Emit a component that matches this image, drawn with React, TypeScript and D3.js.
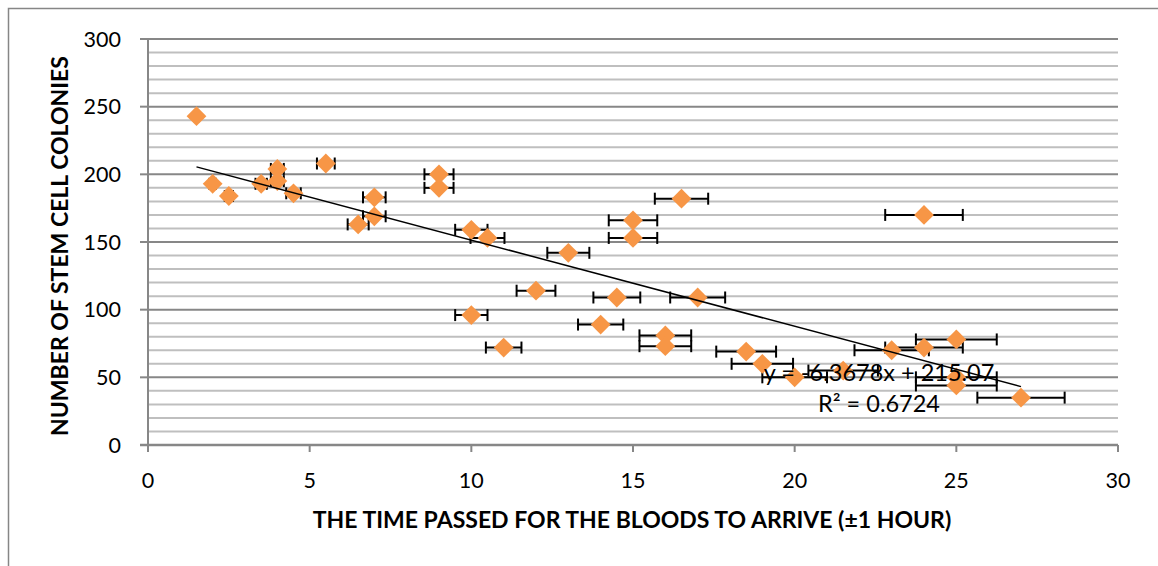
import React from "react";
import * as d3 from "d3";

// hours until the bloods arrived, and colonies counted
const timeHours = [
  1.5, 2, 2.5, 3.5, 4, 4, 4.5, 5.5, 6.5, 7, 7, 9, 9, 10, 10.5, 10, 11, 12, 13,
  14, 14.5, 15, 15, 16.5, 16, 16, 17, 18.5, 19, 20, 21.5, 23, 24, 24, 25, 25,
  25, 27,
];
const colonies = [
  243, 193, 184, 193, 204, 195, 186, 208, 163, 183, 169, 200, 190, 159, 153, 96,
  72, 114, 142, 89, 109, 166, 153, 182, 81, 73, 109, 69, 60, 50, 55, 70, 72,
  170, 78, 50, 44, 35,
];
const errorPct = 0.05; // Excel percentage error bars on x

const trendSlope = -6.3678;
const trendIntercept = 215.07;
const trendLabel = "y = -6.3678x + 215.07";
const r2Label = "R² = 0.6724";

const xTicks = [0, 5, 10, 15, 20, 25, 30];
const yTicks = [0, 50, 100, 150, 200, 250, 300];
const xTitle = "THE TIME PASSED FOR THE BLOODS TO ARRIVE (±1 HOUR)";
const yTitle = "NUMBER OF STEM CELL COLONIES";

const W = 1158;
const H = 566;

export default function App() {
  const x = d3.scaleLinear().domain([0, 30]).range([148, 1118]);
  const y = d3.scaleLinear().domain([0, 300]).range([445, 39]);
  const minor = d3.range(0, 301, 10);
  const diamond = d3.symbol(d3.symbolSquare, 196)();
  const font = "Lato, 'Open Sans', sans-serif";
  const points = timeHours.map((t, i) => ({ t, c: colonies[i] }));
  const t0 = d3.min(timeHours) as number;
  const t1 = d3.max(timeHours) as number;

  return (
    <svg
      width={W}
      height={H}
      style={{ position: "fixed", left: 0, top: 0, background: "#fff" }}
      fontFamily={font}
    >
      <rect x={8.5} y={8.5} width={W + 10} height={H + 10} fill="#fff" stroke="#868686" strokeWidth={1.5} />

      {/* grid */}
      {minor.map((v) => (
        <line
          key={"g" + v}
          x1={x(0)}
          x2={x(30)}
          y1={y(v)}
          y2={y(v)}
          stroke={v % 50 === 0 ? "#878787" : "#bfbfbf"}
          strokeWidth={2}
        />
      ))}

      {/* axes */}
      <line x1={x(0)} x2={x(0)} y1={y(300)} y2={y(0)} stroke="#878787" strokeWidth={2} />
      <line x1={x(0) - 8} x2={x(30)} y1={y(0)} y2={y(0)} stroke="#878787" strokeWidth={2.5} />
      {yTicks.map((v) => (
        <g key={"yt" + v}>
          <line x1={x(0) - 8} x2={x(0)} y1={y(v)} y2={y(v)} stroke="#878787" strokeWidth={2} />
          <text x={121} y={y(v)} dy="0.35em" textAnchor="end" fontSize={21.5} fill="#000">
            {v}
          </text>
        </g>
      ))}
      {xTicks.map((v) => (
        <g key={"xt" + v}>
          <line x1={x(v)} x2={x(v)} y1={y(0)} y2={y(0) + 7} stroke="#878787" strokeWidth={2} />
          <text x={x(v)} y={488} textAnchor="middle" fontSize={21.5} fill="#000">
            {v}
          </text>
        </g>
      ))}

      {/* error bars */}
      {points.map((p, i) => {
        const e = p.t * errorPct;
        const yy = y(p.c);
        return (
          <g key={"e" + i} stroke="#000" strokeWidth={2}>
            <line x1={x(p.t - e)} x2={x(p.t + e)} y1={yy} y2={yy} />
            <line x1={x(p.t - e)} x2={x(p.t - e)} y1={yy - 6} y2={yy + 6} />
            <line x1={x(p.t + e)} x2={x(p.t + e)} y1={yy - 6} y2={yy + 6} />
          </g>
        );
      })}

      {/* markers */}
      {points.map((p, i) => (
        <path
          key={"p" + i}
          d={diamond}
          transform={`translate(${x(p.t)},${y(p.c)}) rotate(45)`}
          fill="#F79646"
        />
      ))}

      {/* trendline */}
      <line
        x1={x(t0)}
        y1={y(trendSlope * t0 + trendIntercept)}
        x2={x(t1)}
        y2={y(trendSlope * t1 + trendIntercept)}
        stroke="#000"
        strokeWidth={1.5}
      />
      <text x={879} y={381} textAnchor="middle" fontSize={23.5} fill="#000">
        {trendLabel}
      </text>
      <text x={879} y={412} textAnchor="middle" fontSize={23.5} fill="#000">
        {r2Label}
      </text>

      {/* titles */}
      <text x={632} y={528} textAnchor="middle" fontSize={23} fontWeight="bold" fill="#000">
        {xTitle}
      </text>
      <text
        transform={`translate(68,${(y(0) + y(300)) / 2 + 4}) rotate(-90)`}
        textAnchor="middle"
        fontSize={23}
        fontWeight="bold"
        fill="#000"
      >
        {yTitle}
      </text>
    </svg>
  );
}
